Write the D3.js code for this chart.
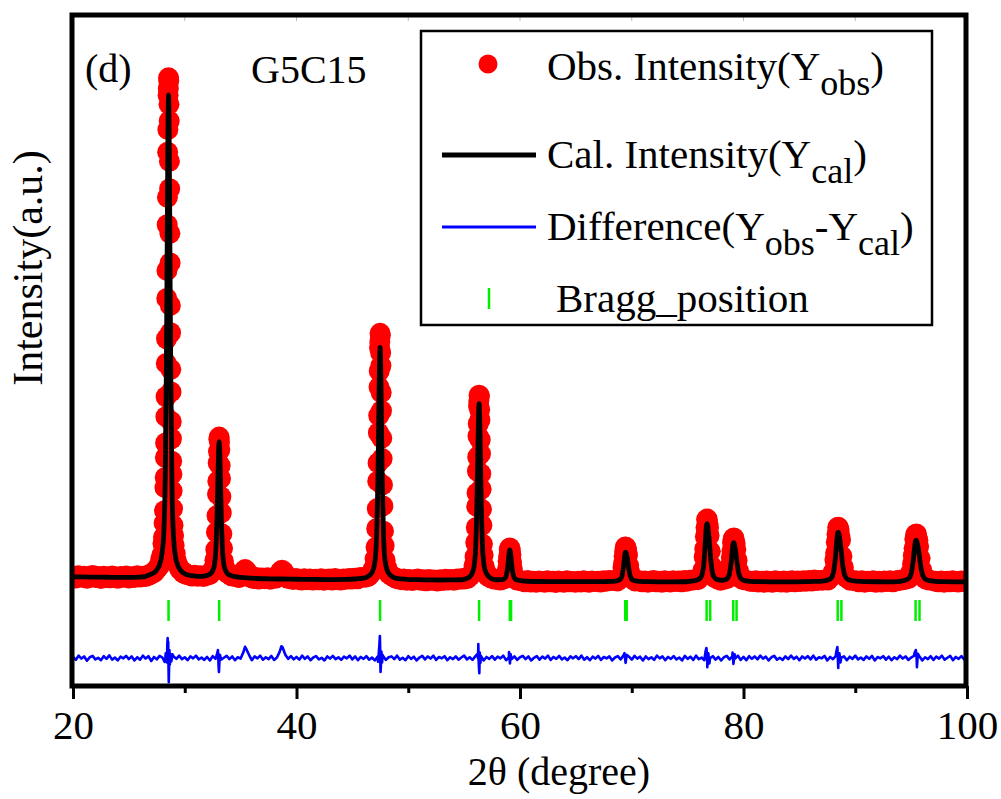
<!DOCTYPE html>
<html>
<head>
<meta charset="utf-8">
<script src="https://cdn.jsdelivr.net/npm/d3@7/dist/d3.min.js"></script>
<style>
  html, body { margin: 0; padding: 0; background: #fff; }
  svg text { font-family: "Liberation Serif", "Times New Roman", serif; fill: #000; }
</style>
</head>
<body>
<svg id="chart" width="1001" height="799"></svg>
<script>
// ---------------- DATA ----------------
const xTicksMajor = [20, 40, 60, 80, 100];
const xTicksMinor = [30, 50, 70, 90];

// Observed intensity points [2theta, counts]
const obsData = [
[20.00,335],[20.25,310],[20.50,350],[20.75,325],[21.00,340],[21.25,305],[21.50,330],[21.75,355],[22.00,318],[22.25,336],[22.50,300],[22.75,342],[23.00,325],[23.25,312],[23.50,348],[23.75,320],[24.00,305],[24.25,338],[24.50,322],[24.75,345],[25.00,310],[25.25,332],[25.50,318],[25.75,350],[26.00,328],[26.25,340],[26.50,335],[26.75,360],
[26.95,375],[27.10,402],[27.25,408],[27.40,450],[27.55,490],[27.70,525],[27.85,650],[27.95,735],[28.05,950],[28.10,1070],[28.15,1330],[28.19,1560],[28.23,1990],[28.25,2180],[28.27,2550],[28.29,2820],[28.31,3310],[28.33,3680],[28.35,4300],[28.37,4760],[28.39,5510],[28.41,6030],[28.43,6880],[28.45,7390],[28.47,8230],[28.49,8650],[28.51,9290],[28.53,9410],[28.55,9613],
[28.57,9560],[28.59,9120],[28.61,8810],[28.63,8060],[28.65,7550],[28.67,6720],[28.69,6170],[28.71,5380],[28.73,4870],[28.75,4190],[28.77,3770],[28.79,3220],[28.81,2900],[28.83,2480],[28.85,2240],[28.87,1930],[28.91,1600],[28.95,1290],[29.00,1100],[29.05,920],[29.15,760],[29.25,625],[29.40,545],[29.55,470],[29.70,450],[29.85,405],[30.00,400],[30.15,372],
[30.40,365],[30.65,345],[30.90,358],[31.15,340],[31.40,352],
[31.68,335],[31.98,360],[32.23,372],[32.43,430],[32.58,482],[32.70,640],[32.78,835],[32.84,1160],[32.89,1470],[32.93,1870],[32.96,2110],[32.99,2450],[33.02,2660],[33.05,2890],[33.08,2930],[33.11,2840],[33.14,2700],[33.17,2400],[33.20,2160],[33.23,1820],[33.27,1520],[33.32,1130],[33.38,860],[33.46,620],[33.58,498],[33.73,415],[33.93,385],[34.18,350],[34.48,336],
[34.75,325],
[34.90,320],[35.10,370],[35.25,430],[35.40,465],[35.55,430],[35.70,365],[35.90,315],
[36.15,300],[36.40,318],[36.65,292],[36.90,310],[37.15,296],[37.40,315],[37.65,288],[37.90,305],
[38.20,310],[38.40,360],[38.55,420],[38.70,455],[38.85,425],[39.00,355],[39.20,305],
[39.45,298],[39.70,280],[39.95,300],[40.20,285],[40.45,272],[40.70,295],[40.95,278],[41.20,290],[41.45,270],[41.70,288],[41.95,276],[42.20,295],[42.45,268],[42.70,285],[42.95,290],[43.20,272],[43.45,298],[43.70,280],[43.95,270],[44.20,292],[44.45,285],[44.70,300],[44.95,290],[45.20,305],[45.45,295],[45.70,318],
[46.13,322],[46.43,338],[46.68,400],[46.88,478],[47.03,665],[47.12,880],[47.18,1230],[47.23,1600],[47.27,2110],[47.30,2450],[47.33,3010],[47.355,3330],[47.38,3860],[47.405,4160],[47.43,4590],[47.455,4700],[47.48,4860],[47.505,4820],[47.53,4500],[47.555,4260],[47.58,3760],[47.605,3420],[47.63,2910],[47.66,2530],[47.69,2040],[47.73,1650],[47.78,1180],[47.84,910],[47.93,640],[48.08,495],[48.28,385],[48.53,350],[48.83,310],
[49.10,295],[49.35,278],[49.60,290],[49.85,268],[50.10,283],[50.35,262],[50.60,278],[50.85,290],[51.10,265],[51.35,275],[51.60,258],[51.85,280],[52.10,266],[52.35,272],[52.60,255],[52.85,278],[53.10,262],[53.35,285],[53.60,270],[53.85,280],[54.10,268],[54.35,290],[54.60,285],[54.85,298],
[54.99,290],[55.29,300],[55.54,350],[55.74,405],[55.89,545],[55.98,705],[56.04,970],[56.09,1250],[56.13,1640],[56.16,1890],[56.19,2300],[56.215,2560],[56.24,2950],[56.265,3180],[56.29,3510],[56.315,3600],[56.34,3710],[56.365,3680],[56.39,3440],[56.415,3250],[56.44,2880],[56.465,2620],[56.49,2250],[56.52,1960],[56.55,1590],[56.59,1290],[56.64,940],[56.70,735],[56.79,530],[56.94,420],[57.14,338],[57.39,312],[57.69,290],
[57.95,282],[58.24,270],[58.49,290],[58.67,305],[58.79,385],[58.87,470],[58.94,620],[58.99,715],[59.04,835],[59.09,867],[59.14,815],[59.19,735],[59.24,605],[59.31,485],[59.39,370],[59.51,318],[59.69,276],[59.94,262],
[60.20,255],[60.45,240],[60.70,262],[60.95,235],[61.20,250],[61.45,228],[61.70,255],[61.95,242],[62.20,230],[62.45,258],[62.70,238],[62.95,248],[63.20,226],[63.45,252],[63.70,240],[63.95,232],[64.20,256],[64.45,238],[64.70,245],[64.95,228],[65.20,250],[65.45,236],[65.70,258],[65.95,240],[66.20,232],[66.45,255],[66.70,242],[66.95,250],[67.20,235],[67.45,258],[67.70,248],[67.95,262],
[68.32,262],[68.72,255],[68.97,300],[69.12,355],[69.22,500],[69.27,575],[69.32,712],[69.37,800],[69.42,884],[69.47,880],[69.52,858],[69.57,785],[69.62,735],[69.72,540],[69.82,415],[69.92,320],[70.07,290],[70.32,252],[70.72,258],
[70.95,240],[71.20,255],[71.45,232],[71.70,248],[71.95,262],[72.20,238],[72.45,250],[72.70,228],[72.95,256],[73.20,242],[73.45,236],[73.70,258],[73.95,245],[74.20,252],[74.45,238],[74.70,262],[74.95,250],[75.20,268],
[75.49,270],[75.93,278],[76.20,345],[76.37,455],[76.48,700],[76.535,850],[76.59,1080],[76.645,1250],[76.70,1395],[76.755,1405],[76.81,1320],[76.865,1245],[76.92,1100],[77.03,805],[77.14,530],[77.25,405],[77.42,318],[77.69,290],
[77.95,268],[78.275,285],[78.56,305],[78.735,410],[78.85,548],[78.91,690],[78.965,810],[79.022,965],[79.08,1035],[79.138,1055],[79.195,995],[79.25,945],[79.31,840],[79.425,640],[79.54,445],[79.655,365],[79.83,292],[80.115,275],[80.58,250],
[80.85,242],[81.10,258],[81.35,235],[81.60,250],[81.85,228],[82.10,255],[82.35,240],[82.60,232],[82.85,258],[83.10,245],[83.35,236],[83.60,252],[83.85,230],[84.10,248],[84.35,260],[84.60,238],[84.85,252],[85.10,242],[85.35,258],[85.60,248],[85.85,262],[86.10,255],[86.35,270],[86.60,262],
[87.055,268],[87.555,272],[87.868,335],[88.055,428],[88.18,645],[88.243,772],[88.305,975],[88.368,1125],[88.43,1250],[88.493,1252],[88.555,1205],[88.618,1100],[88.68,1015],[88.805,715],[88.93,510],[89.055,370],[89.243,312],[89.555,265],[90.055,258],
[90.35,240],[90.60,256],[90.85,232],[91.10,250],[91.35,242],[91.60,258],[91.85,230],[92.10,248],[92.35,236],[92.60,255],[92.85,244],[93.10,260],[93.35,238],[93.60,252],[93.85,262],[94.10,270],
[94.455,280],[94.793,305],[94.995,420],[95.13,570],[95.198,725],[95.265,860],[95.333,1030],[95.40,1110],[95.468,1128],[95.535,1065],[95.603,1010],[95.67,895],[95.805,675],[95.94,460],[96.075,368],[96.278,292],[96.615,272],[97.155,248],
[97.45,240],[97.70,255],[97.95,232],[98.20,250],[98.45,238],[98.70,258],[98.95,242],[99.20,234],[99.45,255],[99.70,245],[99.95,240]
];

// Calculated intensity points [2theta, counts]
const calData = [
[20,330],[21,328],[22,325],[23,323],[24,321],[25,320],[26,325],[27.0,380],[27.45,447],[27.85,627],[28.10,1057],[28.25,2141],[28.35,4094],[28.40,5563],[28.45,7221],[28.50,8673],[28.55,9294],[28.60,8671],[28.65,7219],[28.70,5561],[28.75,4092],[28.85,2139],[29.00,1055],[29.25,625],[29.65,445],[30.10,378],[30.6,352],[31.2,340],[31.5,339],
[31.98,355],[32.38,404],[32.63,525],[32.78,830],[32.88,1382],[32.93,1797],[32.98,2265],[33.03,2674],[33.08,2843],[33.13,2672],[33.18,2263],[33.23,1795],[33.28,1380],[33.38,828],[33.53,522],[33.78,400],[34.18,350],[34.66,330],
[35.5,312],[36.5,300],[37.5,294],[38.5,290],[39.5,287],[40.5,284],[41.5,282],[42.5,280],[43.5,280],[44.5,283],[45.2,290],[46.0,305],
[46.38,335],[46.78,422],[47.03,629],[47.18,1153],[47.28,2097],[47.33,2807],[47.38,3608],[47.43,4310],[47.48,4600],[47.53,4308],[47.58,3606],[47.63,2805],[47.68,2095],[47.78,1150],[47.93,627],[48.18,420],[48.58,333],[48.96,303],
[49.8,285],[50.8,278],[51.8,275],[52.8,272],[53.8,275],[54.8,276],
[55.24,300],[55.64,365],[55.89,523],[56.04,921],[56.14,1638],[56.19,2178],[56.24,2787],[56.29,3320],[56.34,3550],[56.39,3322],[56.44,2790],[56.49,2182],[56.54,1642],[56.64,926],[56.79,530],[57.04,375],[57.44,300],[57.8,276],
[58.39,278],[58.64,301],[58.79,371],[58.89,498],[58.94,593],[58.99,700],[59.04,794],[59.09,833],[59.14,792],[59.19,698],[59.24,591],[59.29,496],[59.39,369],[59.54,298],[59.79,270],[60.19,256],[60.8,248],
[61.8,244],[62.8,243],[63.8,242],[64.8,241],[65.8,240],[66.8,240],[67.6,243],
[68.32,247],[68.72,260],[68.97,285],[69.12,345],[69.22,453],[69.27,535],[69.32,632],[69.37,725],[69.42,785],[69.47,791],[69.52,760],[69.57,713],[69.62,654],[69.72,504],[69.82,382],[69.92,314],[70.07,275],[70.32,256],[70.72,246],
[71.5,240],[72.5,238],[73.5,238],[74.5,239],[75.1,244],
[75.49,254],[75.93,278],[76.20,327],[76.37,445],[76.48,656],[76.535,816],[76.59,1006],[76.645,1189],[76.70,1305],[76.755,1318],[76.81,1256],[76.865,1165],[76.92,1050],[77.03,756],[77.14,517],[77.25,385],[77.42,314],[77.69,279],[78.13,267],
[78.275,272],[78.56,301],[78.735,381],[78.85,523],[78.91,631],[78.965,758],[79.022,881],[79.08,959],[79.138,968],[79.195,926],[79.25,865],[79.31,788],[79.425,590],[79.54,429],[79.655,340],[79.83,285],[80.115,259],[80.58,247],
[81.5,240],[82.5,238],[83.5,237],[84.5,238],[85.5,240],[86.3,245],
[87.055,252],[87.555,272],[87.868,314],[88.055,416],[88.18,596],[88.243,734],[88.305,896],[88.368,1053],[88.43,1152],[88.493,1163],[88.555,1110],[88.618,1032],[88.68,934],[88.805,681],[88.93,477],[89.055,363],[89.243,298],[89.555,266],[90.055,250],
[91,242],[92,239],[93,238],[93.8,242],
[94.455,266],[94.793,302],[94.995,387],[95.13,538],[95.198,653],[95.265,790],[95.333,921],[95.40,1004],[95.468,1014],[95.535,969],[95.603,904],[95.67,821],[95.805,610],[95.94,438],[96.075,343],[96.278,288],[96.615,261],[97.155,248],
[98,240],[99,238],[100,237]
];

// Difference (Yobs - Ycal), read every 0.25 degree from 20 to 100 (counts)
const diffStart = 20, diffStep = 0.25;
const diffVals = [
20,-35,45,-10,30,-50,15,40,-25,5,-40,35,-15,50,-30,10,-45,25,-5,40,
-20,30,-45,15,-30,45,-10,35,-55,20,-25,40,10,-35,25,-50,30,-15,45,-20,
15,-40,30,-5,45,-25,10,-35,20,-45,35,-15,25,-30,5,40,-20,30,-40,15,
-10,110,170,60,-40,30,-5,45,-30,15,-20,40,-35,10,120,200,60,-15,35,-25,
20,-30,45,-15,30,-40,10,35,-25,5,-45,30,-10,40,-20,15,-35,25,-5,45,
-25,30,-40,20,-15,35,-30,10,-45,25,-10,40,-35,15,30,-20,45,-30,5,-40,
35,-15,25,-45,10,40,-25,30,-10,45,-35,20,-5,35,-40,15,-20,30,-30,10,
45,-25,15,-35,30,-10,40,-45,20,-15,35,-30,25,-5,45,-40,10,-20,30,-35,
15,40,-20,30,-45,5,35,-30,25,-10,45,-35,20,-15,40,-25,10,-40,30,-5,
35,-20,45,-30,15,-40,25,-10,40,-35,20,-5,30,-45,10,35,-25,45,-15,25,
-30,40,-10,25,-45,30,-20,15,-35,45,-5,30,-40,20,-15,35,-25,10,-45,40,
-15,25,-35,45,-20,10,-40,30,-5,35,-30,20,-45,15,40,-25,30,-10,45,-35,
20,-40,35,-15,30,-25,45,-10,25,-45,15,40,-30,5,-35,30,-20,45,-15,25,
-40,30,-10,35,-25,45,-30,15,-5,40,-45,20,-20,35,-35,10,30,-40,25,-15,
45,-25,10,-35,30,-15,40,-45,20,-5,35,-30,25,-40,15,-20,45,-10,30,-35,
10,40,-25,30,-45,15,-20,35,-35,25,-10,45,-30,5,40,-40,20,-15,35,-25,
10
];
// Extra difference points at the peaks [2theta, counts]
const diffSpikes = [
[28.20,-70],[28.30,90],[28.35,60],[28.40,-80],[28.44,250],[28.47,370],[28.49,120],[28.52,300],[28.55,-200],[28.57,-450],[28.60,-150],[28.63,150],[28.67,-120],[28.72,80],[28.80,-60],[28.90,70],
[32.90,80],[32.97,150],[33.02,-120],[33.06,-260],[33.10,-80],[33.15,60],
[35.40,210],[38.65,220],
[47.30,-70],[47.35,60],[47.42,250],[47.46,410],[47.49,150],[47.52,-260],[47.55,-150],[47.60,120],[47.66,-80],[47.70,60],
[56.20,80],[56.27,260],[56.31,-100],[56.36,-280],[56.40,100],[56.46,-90],
[59.02,110],[59.10,-100],[59.16,70],
[69.35,90],[69.45,-90],[69.55,60],
[76.60,120],[76.68,185],[76.76,-170],[76.85,90],[76.95,-100],
[79.02,100],[79.10,-110],[79.20,70],
[88.30,110],[88.40,205],[88.48,-185],[88.58,90],[88.68,-80],
[95.30,90],[95.42,150],[95.52,-170],[95.60,80]
];
const diffOffset = -1180;   // vertical offset of the difference curve (counts)

// Bragg reflection positions (2theta)
const braggPos = [28.55, 33.08, 47.48, 56.34, 59.09, 59.20, 69.42, 69.55, 76.70, 77.02, 79.08, 79.38, 88.43, 88.76, 95.40, 95.75];
const braggTop = -100, braggBottom = -490;

const legendLabels = ["Obs. Intensity", "Cal. Intensity", "Difference", "Bragg_position"];

// ---------------- CHART ----------------
const svg = d3.select("#chart");
const L = 72, R = 966, T = 15, B = 686;

const x = d3.scaleLinear().domain([20, 100]).range([73, 967]);
const y = d3.scaleLinear().domain([-1700, 10800]).range([686, 14]);

svg.append("defs").append("clipPath").attr("id", "plotClip")
  .append("rect").attr("x", L).attr("y", T).attr("width", R - L).attr("height", B - T);

const plot = svg.append("g").attr("clip-path", "url(#plotClip)");

// observed points
plot.append("g").selectAll("circle").data(obsData).join("circle")
  .attr("cx", d => x(d[0])).attr("cy", d => y(d[1])).attr("r", 10.5)
  .attr("fill", "#ff0000");

// calculated line
plot.append("path").datum(calData)
  .attr("fill", "none").attr("stroke", "#000").attr("stroke-width", 4.8)
  .attr("stroke-linejoin", "round")
  .attr("d", d3.line().x(d => x(d[0])).y(d => y(d[1])).curve(d3.curveMonotoneX));

// Bragg ticks
plot.append("g").selectAll("line").data(braggPos).join("line")
  .attr("x1", d => x(d)).attr("x2", d => x(d))
  .attr("y1", y(braggTop)).attr("y2", y(braggBottom))
  .attr("stroke", "#00ee00").attr("stroke-width", 2.5);

// difference line
const diffPts = diffVals.map((v, i) => [diffStart + i * diffStep, v]).concat(diffSpikes)
  .sort((a, b) => a[0] - b[0]);
plot.append("path").datum(diffPts)
  .attr("fill", "none").attr("stroke", "#0000ff").attr("stroke-width", 2.6)
  .attr("stroke-linejoin", "round")
  .attr("d", d3.line().x(d => x(d[0])).y(d => y(diffOffset + d[1])));

// faint top ticks
svg.append("g").selectAll("line").data(d3.range(30, 100, 10)).join("line")
  .attr("x1", d => x(d)).attr("x2", d => x(d)).attr("y1", T + 2).attr("y2", T + 6)
  .attr("stroke", "#bbb").attr("stroke-width", 1);

// frame
svg.append("rect").attr("x", L).attr("y", T).attr("width", R - L).attr("height", B - T)
  .attr("fill", "none").attr("stroke", "#000").attr("stroke-width", 5);

// x axis
const axMajor = svg.append("g").attr("transform", `translate(0,${B})`)
  .call(d3.axisBottom(x).tickValues(xTicksMajor).tickSize(13).tickFormat(d3.format("d")));
axMajor.select(".domain").remove();
axMajor.selectAll(".tick line").attr("stroke", "#000").attr("stroke-width", 3);
axMajor.selectAll(".tick text").attr("y", 53).attr("dy", 0)
  .style("font-size", "41px").style("font-family", '"Liberation Serif", "Times New Roman", serif');

const axMinor = svg.append("g").attr("transform", `translate(0,${B})`)
  .call(d3.axisBottom(x).tickValues(xTicksMinor).tickSize(7).tickFormat(""));
axMinor.select(".domain").remove();
axMinor.selectAll(".tick line").attr("stroke", "#000").attr("stroke-width", 3);

// axis titles
svg.append("text").attr("x", 559).attr("y", 785).attr("text-anchor", "middle")
  .style("font-size", "40px").text("2θ (degree)");
svg.append("text").attr("transform", "translate(42,268) rotate(-90)").attr("text-anchor", "middle")
  .style("font-size", "42px").text("Intensity(a.u.)");

// panel labels
svg.append("text").attr("x", 85).attr("y", 82).style("font-size", "40px").text("(d)");
svg.append("text").attr("x", 251).attr("y", 83).style("font-size", "40px").text("G5C15");

// legend
const lg = svg.append("g");
lg.append("rect").attr("x", 421).attr("y", 31).attr("width", 511).attr("height", 294)
  .attr("fill", "#fff").attr("stroke", "#000").attr("stroke-width", 2.5);
lg.append("circle").attr("cx", 488).attr("cy", 64).attr("r", 9.5).attr("fill", "#ff0000");
lg.append("line").attr("x1", 442).attr("x2", 536).attr("y1", 155).attr("y2", 155)
  .attr("stroke", "#000").attr("stroke-width", 5);
lg.append("line").attr("x1", 442).attr("x2", 536).attr("y1", 227).attr("y2", 227)
  .attr("stroke", "#0000ff").attr("stroke-width", 3);
lg.append("line").attr("x1", 489).attr("x2", 489).attr("y1", 288).attr("y2", 309)
  .attr("stroke", "#00ee00").attr("stroke-width", 2.5);

const t1 = lg.append("text").attr("x", 547).attr("y", 80).style("font-size", "41px");
t1.append("tspan").text(legendLabels[0] + "(Y");
t1.append("tspan").attr("dy", 15).style("font-size", "36px").text("obs");
t1.append("tspan").attr("dy", -15).text(")");

const t2 = lg.append("text").attr("x", 547).attr("y", 168).style("font-size", "41px");
t2.append("tspan").text(legendLabels[1] + "(Y");
t2.append("tspan").attr("dy", 15).style("font-size", "36px").text("cal");
t2.append("tspan").attr("dy", -15).text(")");

const t3 = lg.append("text").attr("x", 547).attr("y", 240).style("font-size", "41px");
t3.append("tspan").text(legendLabels[2] + "(Y");
t3.append("tspan").attr("dy", 15).style("font-size", "36px").text("obs");
t3.append("tspan").attr("dy", -15).text("-Y");
t3.append("tspan").attr("dy", 15).style("font-size", "36px").text("cal");
t3.append("tspan").attr("dy", -15).text(")");

lg.append("text").attr("x", 556).attr("y", 312).style("font-size", "41px").text(legendLabels[3]);
</script>
</body>
</html>
